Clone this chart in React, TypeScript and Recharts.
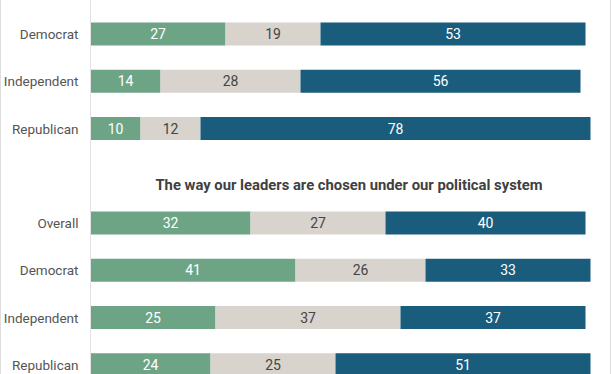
import { BarChart, Bar, XAxis, YAxis, LabelList } from "recharts";

// rows top to bottom; the empty row is where the section title sits
const groups = ["Democrat", "Independent", "Republican", "", "Overall", "Democrat", "Independent", "Republican"];
const greenVals = [27, 14, 10, null, 32, 41, 25, 24];
const grayVals = [19, 28, 12, null, 27, 26, 37, 25];
const blueVals = [53, 56, 78, null, 40, 33, 37, 51];

const sectionTitle = "The way our leaders are chosen under our political system";

const GREEN = "#6da486";
const GRAY = "#d8d3cd";
const BLUE = "#195c7c";
const FONT = "Roboto, sans-serif";

const data = groups.map((g, i) => ({
  name: g,
  green: greenVals[i],
  gray: grayVals[i],
  blue: blueVals[i],
}));

const fmt = (v: any) => (v == null ? "" : v);

export default function App() {
  return (
    <div
      style={{
        position: "absolute",
        left: 0,
        top: 0,
        width: 612,
        height: 374,
        overflow: "hidden",
        background: "#fff",
        fontFamily: FONT,
      }}
    >
      <BarChart
        layout="vertical"
        width={612}
        height={400}
        data={data}
        margin={{ top: 0, right: 21.5, bottom: 0, left: 0 }}
      >
        <XAxis type="number" domain={[0, 100]} hide />
        <YAxis
          type="category"
          dataKey="name"
          width={90.5}
          padding={{ top: 10.6, bottom: 11.4 }}
          axisLine={{ stroke: "#e2e2e2" }}
          tickLine={false}
          tickSize={0}
          tickMargin={12}
          tick={{ fontSize: 13.5, fill: "#555", fontFamily: FONT }}
          interval={0}
        />
        <Bar dataKey="green" stackId="a" fill={GREEN} barSize={23} isAnimationActive={false}>
          <LabelList dataKey="green" position="center" fill="#fff" fontSize={14} fontFamily={FONT} formatter={fmt} />
        </Bar>
        <Bar dataKey="gray" stackId="a" fill={GRAY} barSize={23} isAnimationActive={false}>
          <LabelList dataKey="gray" position="center" fill="#444" fontSize={14} fontFamily={FONT} formatter={fmt} />
        </Bar>
        <Bar dataKey="blue" stackId="a" fill={BLUE} barSize={23} isAnimationActive={false}>
          <LabelList dataKey="blue" position="center" fill="#fff" fontSize={14} fontFamily={FONT} formatter={fmt} />
        </Bar>
      </BarChart>
      <svg width={612} height={374} style={{ position: "absolute", left: 0, top: 0, pointerEvents: "none" }}>
        <text x={349} y={190} textAnchor="middle" fontSize={14.8} fontWeight="bold" fill="#404040" fontFamily={FONT}>
          {sectionTitle}
        </text>
        <line x1={0.5} y1={0} x2={0.5} y2={374} stroke="#dedede" />
        <line x1={610.5} y1={0} x2={610.5} y2={374} stroke="#dedede" />
      </svg>
    </div>
  );
}
